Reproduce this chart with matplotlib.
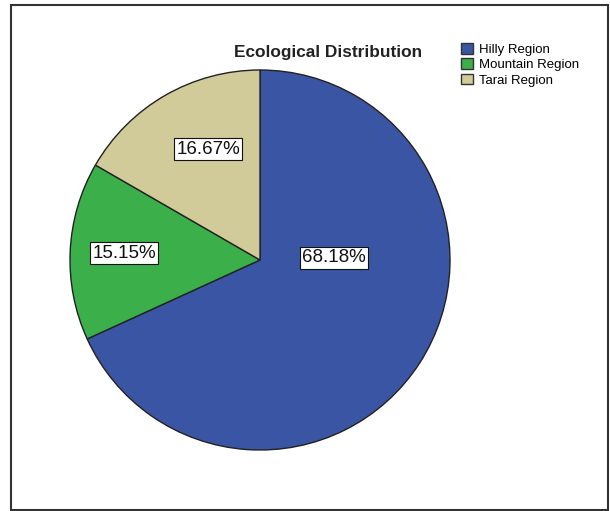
import matplotlib
matplotlib.use("Agg")
import matplotlib.pyplot as plt
from matplotlib.patches import Patch, Rectangle

plt.rcParams['font.family'] = ['Liberation Sans', 'DejaVu Sans']

# data
regions = ["Hilly Region", "Mountain Region", "Tarai Region"]
shares = [68.18, 15.15, 16.67]
colours = ["#3A55A4", "#3AAF4A", "#D1CA99"]

W, H = 610, 511
fig = plt.figure(figsize=(W / 100, H / 100), dpi=100)
ax = fig.add_axes([0, 0, 1, 1])

# pie in pixel coordinates (y measured up from bottom)
cx, cy, r = 260, H - 260, 190
wedges, texts, autotexts = ax.pie(
    shares, colors=colours, startangle=90, counterclock=False,
    center=(cx, cy), radius=r, autopct="%.2f%%",
    wedgeprops=dict(edgecolor="#222222", linewidth=1.0),
    textprops=dict(fontsize=13.5, color="#111111"),
)
ax.set_xlim(0, W)
ax.set_ylim(0, H)
ax.set_aspect("equal")
ax.axis("off")

# label placement like the original
label_pos = [(334, 258), (124, 253), (208, 149)]
for t, (x, y) in zip(autotexts, label_pos):
    t.set_position((x, H - y))
    t.set_bbox(dict(facecolor="white", edgecolor="#111111", linewidth=0.8, pad=1.5))

fig.text(328 / W, 1 - 53 / H, "Ecological Distribution", fontsize=12.4,
         fontweight="bold", ha="center", va="center", color="#222222")

handles = [Patch(facecolor=c, edgecolor="#333333", linewidth=1.0) for c in colours]
fig.legend(handles, regions, loc="upper left", bbox_to_anchor=(461 / W, 1 - 43 / H),
           frameon=False, fontsize=9.5, handlelength=0.9, handleheight=0.9,
           handletextpad=0.45, labelspacing=0.17, borderpad=0, borderaxespad=0)

fig.patches.append(Rectangle((11 / W, 1 - 510 / H), 597 / W, 505 / H,
                             transform=fig.transFigure, fill=False,
                             edgecolor="#333333", linewidth=1.5))

fig.savefig("out.png", dpi=100)
